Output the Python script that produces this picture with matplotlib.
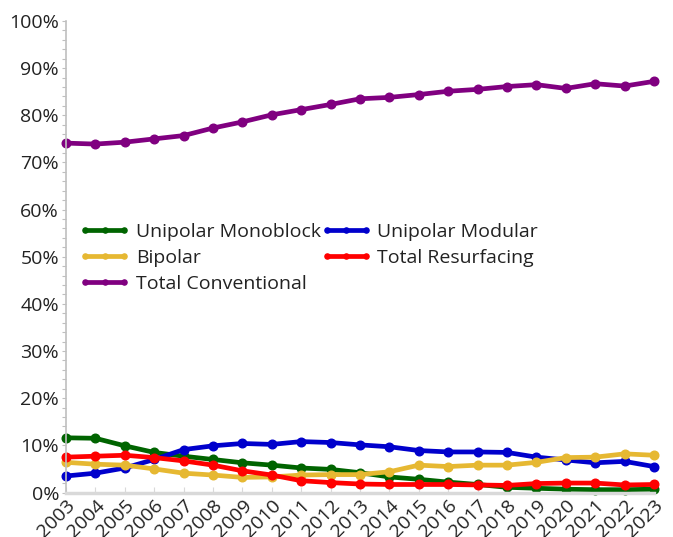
import matplotlib
matplotlib.use("Agg")
import matplotlib.pyplot as plt
from matplotlib.ticker import PercentFormatter, MultipleLocator

years = list(range(2003, 2024))
unipolar_monoblock = [11.6, 11.5, 9.9, 8.5, 7.7, 7.0, 6.3, 5.8, 5.2, 4.9, 4.2, 3.3, 2.8, 2.2, 1.7, 1.1, 0.9, 0.7, 0.6, 0.6, 0.7]
unipolar_modular = [3.5, 4.1, 5.2, 7.0, 9.1, 9.9, 10.4, 10.2, 10.8, 10.6, 10.1, 9.7, 8.9, 8.6, 8.6, 8.5, 7.5, 6.9, 6.3, 6.6, 5.5]
bipolar = [6.4, 6.0, 5.8, 5.0, 4.1, 3.7, 3.2, 3.3, 3.7, 3.8, 3.8, 4.4, 5.8, 5.5, 5.8, 5.8, 6.4, 7.4, 7.5, 8.2, 7.9]
total_resurfacing = [7.5, 7.7, 7.9, 7.4, 6.7, 5.8, 4.6, 3.7, 2.5, 2.1, 1.8, 1.7, 1.7, 1.7, 1.6, 1.5, 1.9, 2.0, 2.0, 1.6, 1.7]
total_conventional = [74.1, 73.9, 74.3, 75.0, 75.7, 77.3, 78.6, 80.1, 81.2, 82.3, 83.5, 83.8, 84.4, 85.1, 85.5, 86.1, 86.5, 85.7, 86.7, 86.2, 87.2]

series = [
    ("Unipolar Monoblock", unipolar_monoblock, "#006400"),
    ("Unipolar Modular", unipolar_modular, "#0000CC"),
    ("Bipolar", bipolar, "#E6B832"),
    ("Total Resurfacing", total_resurfacing, "#FF0000"),
    ("Total Conventional", total_conventional, "#800080"),
]

plt.rcParams['font.family'] = ['Open Sans', 'DejaVu Sans']

fig = plt.figure(figsize=(6.73, 5.37), dpi=100)
ax = fig.add_axes([66/673, 44.5/537, 588/673, 471.5/537])

handles = {}
for name, vals, col in series:
    h, = ax.plot(years, [v/100 for v in vals], color=col, lw=3.4, marker='o',
                 markersize=6.2, label=name, clip_on=False, solid_capstyle='round')
    handles[name] = h

ax.set_xlim(2003, 2023)
ax.set_ylim(0, 1)
ax.yaxis.set_major_locator(MultipleLocator(0.1))
ax.yaxis.set_minor_locator(MultipleLocator(0.02))
ax.yaxis.set_major_formatter(PercentFormatter(1.0, decimals=0))
ax.set_xticks(years)
ax.set_xticklabels([str(y) for y in years], rotation=45, ha='right',
                   rotation_mode='anchor')

for s in ['top', 'right']:
    ax.spines[s].set_visible(False)
ax.spines['left'].set_color('#BFBFBF')
ax.spines['left'].set_linewidth(1.2)
ax.spines['bottom'].set_color('#D9D9D9')
ax.spines['bottom'].set_linewidth(2.5)

ax.tick_params(axis='y', which='both', length=3, width=0.8, color='#BFBFBF',
               labelsize=14, pad=2, labelcolor='#222222')
ax.tick_params(axis='x', which='both', direction='in', length=4, width=0.8,
               color='#D9D9D9', labelsize=14, pad=3, labelcolor='#222222')

order = ["Unipolar Monoblock", "Bipolar", "Total Conventional",
         "Unipolar Modular", "Total Resurfacing"]
leg = ax.legend([handles[n] for n in order], order, ncol=2, frameon=False,
                loc='upper left', bbox_to_anchor=(0.0, 0.601), fontsize=14,
                numpoints=3, markerscale=0.6, handlelength=2.6,
                handletextpad=0.3, columnspacing=0.0, labelspacing=0.42,
                borderaxespad=0.3)
for t in leg.get_texts():
    t.set_color('#222222')

fig.savefig("out.png", dpi=100)
